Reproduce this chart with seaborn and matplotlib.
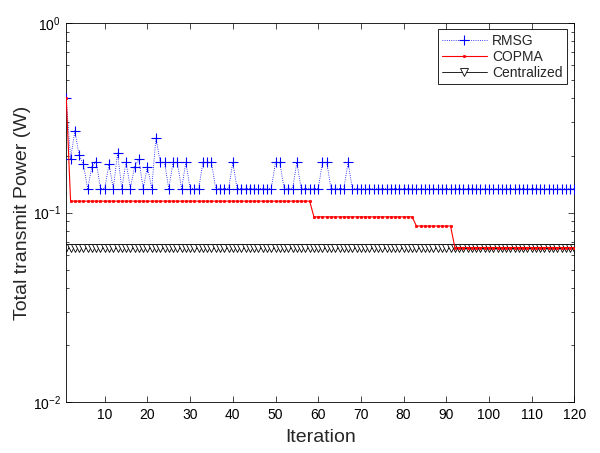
import matplotlib
matplotlib.use("Agg")
import matplotlib.pyplot as plt
import seaborn as sns
import pandas as pd
from matplotlib.ticker import LogLocator, FixedLocator, NullFormatter

# ---- data ----
iterations = list(range(1, 121))

rmsg = [
    0.40, 0.192, 0.27, 0.201, 0.18, 0.134, 0.175, 0.186, 0.134, 0.134,
    0.18, 0.134, 0.206, 0.134, 0.186, 0.134, 0.175, 0.191, 0.134, 0.175,
    0.134, 0.249, 0.184, 0.184, 0.134, 0.184, 0.184, 0.134, 0.184, 0.134,
    0.134, 0.134, 0.184, 0.184, 0.184, 0.134, 0.134, 0.134, 0.134, 0.184,
    0.134, 0.134, 0.134, 0.134, 0.134, 0.134, 0.134, 0.134, 0.134, 0.184,
    0.184, 0.134, 0.134, 0.134, 0.184, 0.134, 0.134, 0.134, 0.134, 0.134,
    0.184, 0.184, 0.134, 0.134, 0.134, 0.134, 0.184, 0.134, 0.134, 0.134,
    0.134, 0.134, 0.134, 0.134, 0.134, 0.134, 0.134, 0.134, 0.134, 0.134,
    0.134, 0.134, 0.134, 0.134, 0.134, 0.134, 0.134, 0.134, 0.134, 0.134,
    0.134, 0.134, 0.134, 0.134, 0.134, 0.134, 0.134, 0.134, 0.134, 0.134,
    0.134, 0.134, 0.134, 0.134, 0.134, 0.134, 0.134, 0.134, 0.134, 0.134,
    0.134, 0.134, 0.134, 0.134, 0.134, 0.134, 0.134, 0.134, 0.134, 0.134,
]

copma = [
    0.40, 0.115, 0.115, 0.115, 0.115, 0.115, 0.115, 0.115, 0.115, 0.115,
    0.115, 0.115, 0.115, 0.115, 0.115, 0.115, 0.115, 0.115, 0.115, 0.115,
    0.115, 0.115, 0.115, 0.115, 0.115, 0.115, 0.115, 0.115, 0.115, 0.115,
    0.115, 0.115, 0.115, 0.115, 0.115, 0.115, 0.115, 0.115, 0.115, 0.115,
    0.115, 0.115, 0.115, 0.115, 0.115, 0.115, 0.115, 0.115, 0.115, 0.115,
    0.115, 0.115, 0.115, 0.115, 0.115, 0.115, 0.115, 0.115, 0.095, 0.095,
    0.095, 0.095, 0.095, 0.095, 0.095, 0.095, 0.095, 0.095, 0.095, 0.095,
    0.095, 0.095, 0.095, 0.095, 0.095, 0.095, 0.095, 0.095, 0.095, 0.095,
    0.095, 0.095, 0.085, 0.085, 0.085, 0.085, 0.085, 0.085, 0.085, 0.085,
    0.085, 0.0655, 0.0655, 0.0655, 0.0655, 0.0655, 0.0655, 0.0655, 0.0655, 0.0655,
    0.0655, 0.0655, 0.0655, 0.0655, 0.0655, 0.0655, 0.0655, 0.0655, 0.0655, 0.0655,
    0.0655, 0.0655, 0.0655, 0.0655, 0.0655, 0.0655, 0.0655, 0.0655, 0.0655, 0.0655,
]

centralized = [
    0.065, 0.065, 0.065, 0.065, 0.065, 0.065, 0.065, 0.065, 0.065, 0.065,
    0.065, 0.065, 0.065, 0.065, 0.065, 0.065, 0.065, 0.065, 0.065, 0.065,
    0.065, 0.065, 0.065, 0.065, 0.065, 0.065, 0.065, 0.065, 0.065, 0.065,
    0.065, 0.065, 0.065, 0.065, 0.065, 0.065, 0.065, 0.065, 0.065, 0.065,
    0.065, 0.065, 0.065, 0.065, 0.065, 0.065, 0.065, 0.065, 0.065, 0.065,
    0.065, 0.065, 0.065, 0.065, 0.065, 0.065, 0.065, 0.065, 0.065, 0.065,
    0.065, 0.065, 0.065, 0.065, 0.065, 0.065, 0.065, 0.065, 0.065, 0.065,
    0.065, 0.065, 0.065, 0.065, 0.065, 0.065, 0.065, 0.065, 0.065, 0.065,
    0.065, 0.065, 0.065, 0.065, 0.065, 0.065, 0.065, 0.065, 0.065, 0.065,
    0.065, 0.065, 0.065, 0.065, 0.065, 0.065, 0.065, 0.065, 0.065, 0.065,
    0.065, 0.065, 0.065, 0.065, 0.065, 0.065, 0.065, 0.065, 0.065, 0.065,
    0.065, 0.065, 0.065, 0.065, 0.065, 0.065, 0.065, 0.065, 0.065, 0.065,
]

x_ticks = [10, 20, 30, 40, 50, 60, 70, 80, 90, 100, 110, 120]

df = pd.DataFrame({"Iteration": iterations, "RMSG": rmsg,
                   "COPMA": copma, "Centralized": centralized})

# ---- style ----
sns.set_style("white")
plt.rcParams["font.family"] = ["Liberation Sans", "DejaVu Sans"]
plt.rcParams["mathtext.fontset"] = "custom"
plt.rcParams["mathtext.rm"] = "Liberation Sans"
plt.rcParams["mathtext.it"] = "Liberation Sans:italic"

fig = plt.figure(figsize=(6.0, 4.53), dpi=100)
ax = fig.add_axes([0.1105, 0.1119, 0.8468, 0.8373])

sns.lineplot(data=df, x="Iteration", y="RMSG", ax=ax, color="#0000ff",
             linestyle=":", linewidth=0.6, marker="+", markersize=7,
             markeredgewidth=0.8, markeredgecolor="#0000ff",
             label="RMSG", estimator=None, errorbar=None, zorder=3)
sns.lineplot(data=df, x="Iteration", y="Centralized", ax=ax, color="black",
             linestyle="-", linewidth=0.6, marker="v", markersize=6,
             markerfacecolor="white", markeredgecolor="black",
             markeredgewidth=0.6, label="Centralized", estimator=None,
             errorbar=None, zorder=2)
sns.lineplot(data=df, x="Iteration", y="COPMA", ax=ax, color="#ff0000",
             linestyle="-", linewidth=0.8, marker=".", markersize=3.5,
             markeredgewidth=0.5, markeredgecolor="#ff0000",
             markerfacecolor="#ff0000",
             label="COPMA", estimator=None, errorbar=None, zorder=4)

ax.set_yscale("log")
ax.set_ylim(0.01, 1)
ax.set_xlim(1, 120)
ax.xaxis.set_major_locator(FixedLocator(x_ticks))
ax.yaxis.set_major_locator(LogLocator(base=10, numticks=10))
ax.yaxis.set_minor_locator(LogLocator(base=10, subs=range(2, 10), numticks=20))
ax.yaxis.set_minor_formatter(NullFormatter())

for sp in ax.spines.values():
    sp.set_visible(True)
    sp.set_color("black")
    sp.set_linewidth(0.6)

ax.tick_params(which="both", direction="in", top=True, right=True,
               bottom=True, left=True, colors="black", width=0.5)
ax.tick_params(which="major", length=4, labelsize=10, pad=4)
ax.tick_params(which="minor", length=2)

ax.set_xlabel("Iteration", fontsize=14, labelpad=5)
ax.set_ylabel("Total transmit Power (W)", fontsize=14, labelpad=1)

# legend in the reference's order
handles, labels = ax.get_legend_handles_labels()
order = [labels.index(n) for n in ["RMSG", "COPMA", "Centralized"]]
leg = ax.legend([handles[i] for i in order], [labels[i] for i in order],
                loc="upper right", bbox_to_anchor=(0.985, 0.983),
                fontsize=10, frameon=True, fancybox=False, framealpha=1,
                edgecolor="black", handlelength=3.2, numpoints=1,
                borderpad=0.3, labelspacing=0.15, handletextpad=0.4,
                borderaxespad=0.0)
leg.get_frame().set_linewidth(0.6)
leg.set_zorder(10)

fig.savefig("out.png", dpi=100, facecolor="white")
